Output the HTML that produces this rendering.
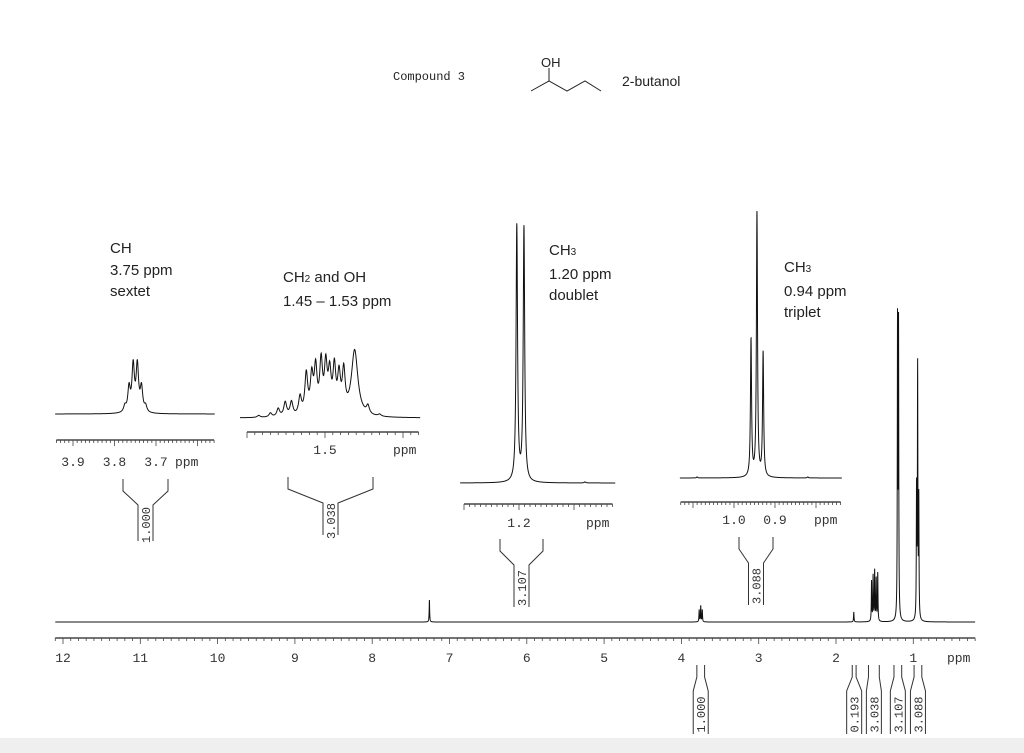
<!DOCTYPE html>
<html><head><meta charset="utf-8"><style>
html,body{margin:0;padding:0;background:#fff}
#wrap{position:relative;width:1024px;height:753px;overflow:hidden;background:#fff}
.lbl{position:absolute;font-family:"Liberation Sans",sans-serif;font-size:15px;line-height:21.5px;color:#222}
.mono{font-family:"Liberation Mono",monospace}
</style></head><body>
<div id="wrap">
<div style="position:absolute;left:0;top:738px;width:1024px;height:15px;background:#efefef"></div>
<div class="lbl mono" style="left:393px;top:67px;font-size:12px">Compound 3</div>
<div class="lbl" style="left:622px;top:71px;font-size:14px">2-butanol</div>
<div class="lbl" style="left:110px;top:238px">CH<br>3.75 ppm<br>sextet</div>
<div class="lbl" style="left:283px;top:267px">CH<span style="font-size:10px">2</span> and OH<br>1.45 – 1.53 ppm</div>
<div class="lbl" style="left:549px;top:240px">CH<span style="font-size:10px">3</span><br>1.20 ppm<br>doublet</div>
<div class="lbl" style="left:784px;top:257px">CH<span style="font-size:10px">3</span><br>0.94 ppm<br>triplet</div>
<svg id="svg" width="1024" height="753" style="position:absolute;left:0;top:0">
<g stroke="#222" stroke-width="1" fill="none">
<polyline points="531,91 549,81 567,91 585,81 601,91"/>
<line x1="549" y1="81" x2="549" y2="68"/>
</g>
<text x="541" y="67" font-family="Liberation Sans,sans-serif" font-size="13" fill="#222">OH</text>
</svg>
</div>
<script>
// main spectrum data
const mainPeaksPpm = [7.26, 3.77, 3.75, 3.73, 1.77, 1.54, 1.52, 1.50, 1.48, 1.46, 1.204, 1.191, 0.958, 0.944, 0.929];
const mainPeaksHeight = [22, 12, 16, 12, 10, 40, 45, 50, 42, 48, 294, 290, 128, 250, 118];
const mainTicks = [12,11,10,9,8,7,6,5,4,3,2,1];
// inset: CH sextet
const chPpm = [3.775, 3.765, 3.755, 3.745, 3.735, 3.725];
const chH = [6, 24, 46, 46, 24, 6];
const chTicks = [3.9, 3.8, 3.7];
// inset: CH2 + OH
const ch2Ppm = [1.585, 1.570, 1.560, 1.551, 1.543, 1.532, 1.524, 1.517, 1.512, 1.505, 1.499, 1.494, 1.488, 1.482, 1.476, 1.462, 1.445, 1.43];
const ch2H = [2, 4, 8, 14, 14, 18, 40, 36, 44, 50, 46, 38, 44, 36, 40, 66, 8, 2];
const ch2Ticks = [1.5];
// inset: doublet
const dPpm = [1.204, 1.191, 1.08];
const dH = [256, 254, 1];
const dTicks = [1.2];
// inset: triplet
const tPpm = [0.9585, 0.944, 0.929, 1.09, 0.82];
const tH = [137, 264, 124, 1, 1];
const tTicks = [1.0, 0.9];
// integrals
const mainIntegrals = [[3.8,3.7,'1.000'],[1.79,1.74,'0.193'],[1.58,1.44,'3.038'],[1.25,1.15,'3.107'],[0.99,0.89,'3.088']];

const svg = document.getElementById('svg');
const NS = 'http://www.w3.org/2000/svg';
function mk(tag, attrs){const e=document.createElementNS(NS,tag);for(const k in attrs)e.setAttribute(k,attrs[k]);svg.appendChild(e);return e;}
function axisFn(p0,x0,pxPerPpm){return p=>x0+(p0-p)*pxPerPpm;}

function spectrum(name, ppms, hs, widths, lo, hi, baseY, width, x, step){
  let d='';
  for(let p=hi;p>=lo;p-=step){
    let y=0;for(let i=0;i<ppms.length;i++){const w=(widths&&widths[i])||width;const u=(p-ppms[i])/w;y+=hs[i]/(1+u*u);}
    d+=(d?'L':'M')+x(p).toFixed(2)+','+(baseY-y).toFixed(2);
  }
  const e=mk('path',{d:d,fill:'none',stroke:'#111','stroke-width':1});
  
  
}
function axis(name,x,lo,hi,y,minor,ticks,fmt,labelY,ppmX,fs){
  const g=mk('line',{x1:x(hi),x2:x(lo),y1:y,y2:y,stroke:'#222','stroke-width':1.3});
  
  
  const n=Math.round((hi-lo)/minor);
  for(let i=0;i<=n;i++){const p=hi-i*minor;const xx=x(p);
    const major=Math.abs(p/ (minor*10) - Math.round(p/(minor*10)))<1e-6;
    mk('line',{x1:xx,x2:xx,y1:y,y2:y+(major?6:3),stroke:'#444','stroke-width':0.8});}
  ticks.forEach(t=>{
    const e=mk('text',{x:x(t),y:labelY,'text-anchor':'middle','font-family':'Liberation Mono,monospace','font-size':fs,fill:'#333'});
    e.textContent=fmt(t);
    
    
  });
  const pe=mk('text',{x:ppmX,y:labelY,'font-family':'Liberation Mono,monospace','font-size':fs,fill:'#333'});
  pe.textContent='ppm';
  
  
}
function integral(name,xa,xb,top,bottom,label){
  const c=(xa+xb)/2, w=7.5;
  const d=`M${xa},${top} L${xa},${top+12} L${c-w},${top+26} L${c-w},${bottom} M${xb},${top} L${xb},${top+12} L${c+w},${top+26} L${c+w},${bottom}`;
  mk('path',{d:d,fill:'none',stroke:'#333','stroke-width':1});
  const t=mk('text',{x:0,y:0,'font-family':'Liberation Mono,monospace','font-size':12,fill:'#333','text-anchor':'middle',
    transform:`translate(${c+4.5},${(top+26+bottom)/2+2}) rotate(-90)`});
  t.textContent=label;
  
  
}

// main
const xm = axisFn(12, 63, 77.3);
spectrum('main-spectrum', mainPeaksPpm, mainPeaksHeight, null, 0.2, 12.1, 622, 0.0035, xm, 0.001);
axis('main-x-axis', xm, 0.2, 12.1, 638, 0.1, mainTicks, t=>String(t), 662, 947, 13);
mainIntegrals.forEach(r=>integral('main-integral', xm(r[0]), xm(r[1]), 665, 734, r[2]));

// inset CH
const x1 = axisFn(3.9, 73, 415);
spectrum('ch-inset-spectrum', chPpm, chH, null, 3.558, 3.943, 414, 0.0035, x1, 0.0005);
axis('ch-inset-axis', x1, 3.56, 3.94, 440, 0.01, chTicks, t=>t.toFixed(1), 466, 175, 13);
integral('ch-inset-integral', 123, 168, 479, 541, '1.000');

// inset CH2
const x2 = axisFn(1.5, 325, 780);
const ch2W = [0,0,0,0,0,0,0,0,0,0,0,0,0,0,0,0.005,0,0];
spectrum('ch2-inset-spectrum', ch2Ppm, ch2H, ch2W, 1.378, 1.609, 418, 0.0022, x2, 0.0003);
axis('ch2-inset-axis', x2, 1.38, 1.60, 432, 0.01, ch2Ticks, t=>t.toFixed(1), 454, 393, 13);
integral('ch2-inset-integral', 288, 373, 477, 535, '3.038');

// inset doublet
const x3 = axisFn(1.2, 519, 550);
spectrum('doublet-inset-spectrum', dPpm, dH, null, 1.025, 1.307, 483, 0.0016, x3, 0.0002);
axis('doublet-inset-axis', x3, 1.03, 1.30, 504, 0.01, dTicks, t=>t.toFixed(1), 527, 586, 13);
integral('doublet-inset-integral', 500, 543, 539, 607, '3.107');

// inset triplet
const x4 = axisFn(1.0, 734, 410);
spectrum('triplet-inset-spectrum', tPpm, tH, null, 0.737, 1.132, 478, 0.0016, x4, 0.0002);
axis('triplet-inset-axis', x4, 0.74, 1.13, 502, 0.01, tTicks, t=>t.toFixed(1), 524, 814, 13);
integral('triplet-inset-integral', 739, 773, 537, 605, '3.088');
</script>
</body></html>
